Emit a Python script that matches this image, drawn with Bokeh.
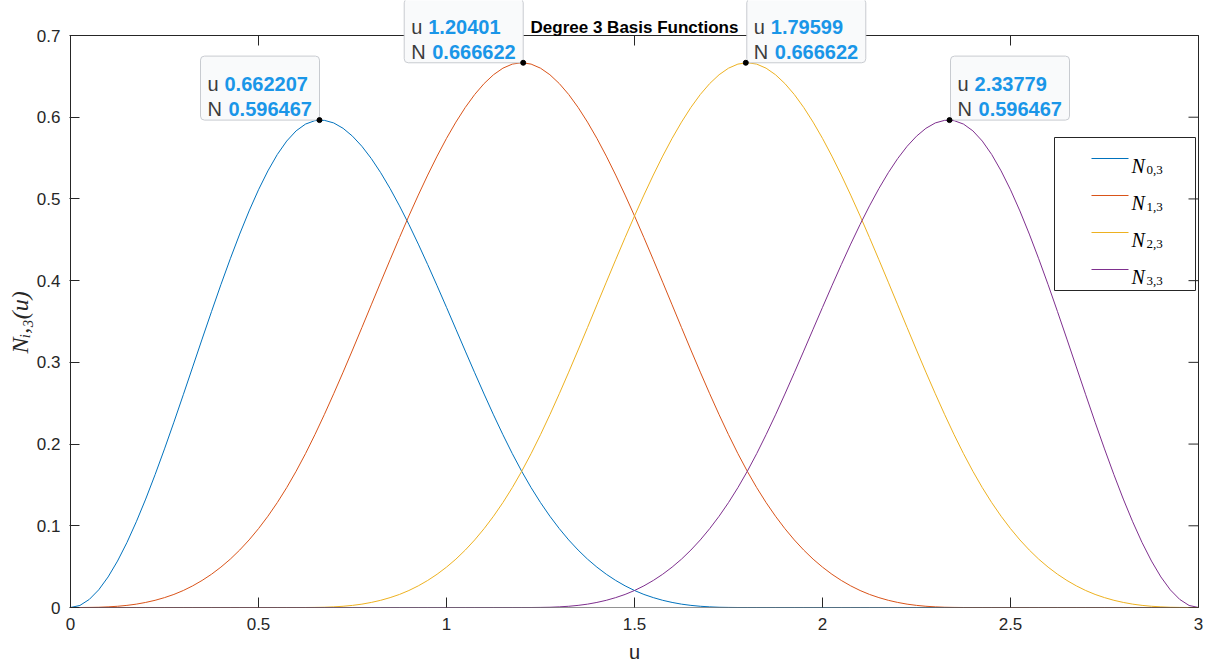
from math import pi
from bokeh.plotting import figure
from bokeh.models import Range1d, FixedTicker, Label, BoxAnnotation, Title
from bokeh.embed import file_html
from bokeh.resources import INLINE

# ---------------- data ----------------
u = [0.000, 0.025, 0.050, 0.075, 0.100, 0.125, 0.150, 0.175, 0.200, 0.225,
     0.250, 0.275, 0.300, 0.325, 0.350, 0.375, 0.400, 0.425, 0.450, 0.475,
     0.500, 0.525, 0.550, 0.575, 0.600, 0.625, 0.650, 0.675, 0.700, 0.725,
     0.750, 0.775, 0.800, 0.825, 0.850, 0.875, 0.900, 0.925, 0.950, 0.975,
     1.000, 1.025, 1.050, 1.075, 1.100, 1.125, 1.150, 1.175, 1.200, 1.225,
     1.250, 1.275, 1.300, 1.325, 1.350, 1.375, 1.400, 1.425, 1.450, 1.475,
     1.500, 1.525, 1.550, 1.575, 1.600, 1.625, 1.650, 1.675, 1.700, 1.725,
     1.750, 1.775, 1.800, 1.825, 1.850, 1.875, 1.900, 1.925, 1.950, 1.975,
     2.000, 2.025, 2.050, 2.075, 2.100, 2.125, 2.150, 2.175, 2.200, 2.225,
     2.250, 2.275, 2.300, 2.325, 2.350, 2.375, 2.400, 2.425, 2.450, 2.475,
     2.500, 2.525, 2.550, 2.575, 2.600, 2.625, 2.650, 2.675, 2.700, 2.725,
     2.750, 2.775, 2.800, 2.825, 2.850, 2.875, 2.900, 2.925, 2.950, 2.975,
     3.000]

N0 = [0, 0.0025, 0.0099, 0.0216, 0.0374, 0.0568, 0.0794, 0.1049, 0.1327, 0.1626,
      0.1941, 0.2268, 0.2604, 0.2944, 0.3285, 0.3621, 0.3951, 0.4268, 0.4570, 0.4853,
      0.5112, 0.5343, 0.5544, 0.5708, 0.5833, 0.5916, 0.5958, 0.5962, 0.5930, 0.5864,
      0.5768, 0.5644, 0.5494, 0.5321, 0.5127, 0.4915, 0.4688, 0.4447, 0.4196, 0.3937,
      0.3673, 0.3406, 0.3138, 0.2873, 0.2612, 0.2358, 0.2115, 0.1883, 0.1667, 0.1467,
      0.1284, 0.1117, 0.0965, 0.0827, 0.0703, 0.0592, 0.0494, 0.0407, 0.0331, 0.0265,
      0.0208, 0.0160, 0.0121, 0.0088, 0.0062, 0.0041, 0.0026, 0.0015, 0.0008, 0.0003,
      0.0001, 0, 0, 0, 0, 0, 0, 0, 0, 0,
      0, 0, 0, 0, 0, 0, 0, 0, 0, 0,
      0, 0, 0, 0, 0, 0, 0, 0, 0, 0,
      0, 0, 0, 0, 0, 0, 0, 0, 0, 0,
      0, 0, 0, 0, 0, 0, 0, 0, 0, 0,
      0]

N1 = [0, 0, 0.0001, 0.0003, 0.0008, 0.0015, 0.0026, 0.0041, 0.0062, 0.0088,
      0.0121, 0.0160, 0.0208, 0.0265, 0.0331, 0.0407, 0.0494, 0.0592, 0.0703, 0.0827,
      0.0965, 0.1117, 0.1284, 0.1467, 0.1667, 0.1883, 0.2115, 0.2360, 0.2616, 0.2880,
      0.3151, 0.3426, 0.3704, 0.3981, 0.4256, 0.4527, 0.4792, 0.5047, 0.5292, 0.5524,
      0.5741, 0.5940, 0.6120, 0.6278, 0.6412, 0.6520, 0.6600, 0.6650, 0.6667, 0.6650,
      0.6600, 0.6520, 0.6412, 0.6278, 0.6120, 0.5940, 0.5741, 0.5524, 0.5292, 0.5047,
      0.4792, 0.4527, 0.4256, 0.3981, 0.3704, 0.3426, 0.3151, 0.2880, 0.2616, 0.2360,
      0.2115, 0.1883, 0.1667, 0.1467, 0.1284, 0.1117, 0.0965, 0.0827, 0.0703, 0.0592,
      0.0494, 0.0407, 0.0331, 0.0265, 0.0208, 0.0160, 0.0121, 0.0088, 0.0062, 0.0041,
      0.0026, 0.0015, 0.0008, 0.0003, 0.0001, 0, 0, 0, 0, 0,
      0, 0, 0, 0, 0, 0, 0, 0, 0, 0,
      0, 0, 0, 0, 0, 0, 0, 0, 0, 0,
      0]

N2 = [0, 0, 0, 0, 0, 0, 0, 0, 0, 0,
      0, 0, 0, 0, 0, 0, 0, 0, 0, 0,
      0, 0, 0, 0, 0, 0, 0.0001, 0.0003, 0.0008, 0.0015,
      0.0026, 0.0041, 0.0062, 0.0088, 0.0121, 0.0160, 0.0208, 0.0265, 0.0331, 0.0407,
      0.0494, 0.0592, 0.0703, 0.0827, 0.0965, 0.1117, 0.1284, 0.1467, 0.1667, 0.1883,
      0.2115, 0.2360, 0.2616, 0.2880, 0.3151, 0.3426, 0.3704, 0.3981, 0.4256, 0.4527,
      0.4792, 0.5047, 0.5292, 0.5524, 0.5741, 0.5940, 0.6120, 0.6278, 0.6412, 0.6520,
      0.6600, 0.6650, 0.6667, 0.6650, 0.6600, 0.6520, 0.6412, 0.6278, 0.6120, 0.5940,
      0.5741, 0.5524, 0.5292, 0.5047, 0.4792, 0.4527, 0.4256, 0.3981, 0.3704, 0.3426,
      0.3151, 0.2880, 0.2616, 0.2360, 0.2115, 0.1883, 0.1667, 0.1467, 0.1284, 0.1117,
      0.0965, 0.0827, 0.0703, 0.0592, 0.0494, 0.0407, 0.0331, 0.0265, 0.0208, 0.0160,
      0.0121, 0.0088, 0.0062, 0.0041, 0.0026, 0.0015, 0.0008, 0.0003, 0.0001, 0,
      0]

N3 = [0, 0, 0, 0, 0, 0, 0, 0, 0, 0,
      0, 0, 0, 0, 0, 0, 0, 0, 0, 0,
      0, 0, 0, 0, 0, 0, 0, 0, 0, 0,
      0, 0, 0, 0, 0, 0, 0, 0, 0, 0,
      0, 0, 0, 0, 0, 0, 0, 0, 0, 0,
      0.0001, 0.0003, 0.0008, 0.0015, 0.0026, 0.0041, 0.0062, 0.0088, 0.0121, 0.0160,
      0.0208, 0.0265, 0.0331, 0.0407, 0.0494, 0.0592, 0.0703, 0.0827, 0.0965, 0.1117,
      0.1284, 0.1467, 0.1667, 0.1883, 0.2115, 0.2358, 0.2612, 0.2873, 0.3138, 0.3406,
      0.3673, 0.3937, 0.4196, 0.4447, 0.4688, 0.4915, 0.5127, 0.5321, 0.5494, 0.5644,
      0.5768, 0.5864, 0.5930, 0.5962, 0.5958, 0.5916, 0.5833, 0.5708, 0.5544, 0.5343,
      0.5112, 0.4853, 0.4570, 0.4268, 0.3951, 0.3621, 0.3285, 0.2944, 0.2604, 0.2268,
      0.1941, 0.1626, 0.1327, 0.1049, 0.0794, 0.0568, 0.0374, 0.0216, 0.0099, 0.0025,
      0]

series = [N0, N1, N2, N3]
for s in series:
    assert len(s) == len(u)

legend_main = ["N", "N", "N", "N"]
legend_subs = ["0,3", "1,3", "2,3", "3,3"]
colors = ["#0072BD", "#D95319", "#EDB120", "#7E2F8E"]

tip_u = [0.662207, 1.20401, 1.79599, 2.33779]
tip_N = [0.596467, 0.666622, 0.666622, 0.596467]
tip_side = ["left", "left", "right", "right"]

x_ticks = [0, 0.5, 1, 1.5, 2, 2.5, 3]
x_tick_labels = ["0", "0.5", "1", "1.5", "2", "2.5", "3"]
y_ticks = [0, 0.1, 0.2, 0.3, 0.4, 0.5, 0.6, 0.7]
y_tick_labels = ["0", "0.1", "0.2", "0.3", "0.4", "0.5", "0.6", "0.7"]

title_text = "Degree 3 Basis Functions"
x_label = "u"
y_label = "N\u1d62,\u2083(u)"

# ---------------- geometry ----------------
AXL, AXR = x_ticks[0], x_ticks[-1]      # axes box in data units
AXB, AXT = y_ticks[0], y_ticks[-1]
PX_X = (AXR - AXL) / 1128.0             # data units per pixel
PX_Y = (AXT - AXB) / 572.0
FW, FH = 1130, 607                      # frame reaches the top of the canvas
AX = "#262626"
SANS = "Liberation Sans"
SERIF = "Liberation Serif"

p = figure(frame_width=FW, frame_height=FH,
           x_range=Range1d(AXL - PX_X, AXR + PX_X),
           y_range=Range1d(AXB, AXT + 35 * PX_Y),
           output_backend="svg", toolbar_location=None,
           min_border_left=69, min_border_right=21,
           min_border_top=0, min_border_bottom=60,
           background_fill_color="white", border_fill_color="white")
p.title.visible = False
p.xgrid.visible = False
p.ygrid.visible = False
p.outline_line_color = None


def style_axis(ax):
    ax.major_tick_line_color = AX
    ax.major_tick_in = 10
    ax.major_tick_out = 0
    ax.minor_tick_in = 0
    ax.minor_tick_out = 0
    ax.minor_tick_line_color = None
    ax.major_label_text_font = SANS
    ax.major_label_text_color = AX
    ax.major_label_text_font_size = "17px"


xax = p.xaxis[0]
xax.ticker = FixedTicker(ticks=x_ticks)
xax.major_label_overrides = dict(zip(x_ticks, x_tick_labels))
style_axis(xax)
xax.axis_line_color = None
xax.major_label_standoff = 10
xax.axis_label = x_label
xax.axis_label_text_font = SANS
xax.axis_label_text_font_size = "20px"
xax.axis_label_text_font_style = "normal"
xax.axis_label_text_color = AX
xax.axis_label_standoff = 8

yax = p.yaxis[0]
yax.ticker = FixedTicker(ticks=y_ticks)
yax.major_label_overrides = dict(zip(y_ticks, y_tick_labels))
style_axis(yax)
yax.axis_line_color = None
yax.major_label_standoff = 9

p.add_layout(Title(text=y_label, align="left", offset=254, standoff=2,
                   text_font=SERIF, text_font_style="italic",
                   text_font_size="24px", text_color=AX), "left")

# ---------------- curves ----------------
for ys, c in zip(series, colors):
    p.line(u, ys, line_color=c, line_width=1)

# ---------------- MATLAB axes box + top / right ticks ----------------
p.add_layout(BoxAnnotation(left=AXL, right=AXR, bottom=AXB, top=AXT,
                           fill_color=None, fill_alpha=0,
                           line_color=AX, line_width=1, line_alpha=1))
p.segment(x0=x_ticks, x1=x_ticks, y0=[AXT] * len(x_ticks),
          y1=[AXT - 10 * PX_Y] * len(x_ticks), line_color=AX, line_width=1)
p.segment(x0=[AXR] * len(y_ticks), x1=[AXR - 10 * PX_X] * len(y_ticks),
          y0=y_ticks, y1=y_ticks, line_color=AX, line_width=1)

# ---------------- legend (custom, MATLAB look) ----------------
p.add_layout(BoxAnnotation(left=AXR - 144 * PX_X, right=AXR - 3 * PX_X,
                           top=AXT - 102 * PX_Y, bottom=AXT - 255 * PX_Y,
                           fill_color="white", fill_alpha=1,
                           line_color=AX, line_width=1, line_alpha=1,
                           level="underlay"))
rows = [123 + 37 * i for i in range(len(colors))]
p.segment(x0=[AXR - 107 * PX_X] * 4, x1=[AXR - 70 * PX_X] * 4,
          y0=[AXT - r * PX_Y for r in rows], y1=[AXT - r * PX_Y for r in rows],
          line_color=colors, line_width=1)
for r, m, s in zip(rows, legend_main, legend_subs):
    p.add_layout(Label(x=AXR, y=AXT, x_offset=-67, y_offset=-(r + 7), text=m,
                       text_font=SERIF, text_font_style="italic",
                       text_font_size="20px", text_color="#000000",
                       text_align="left", text_baseline="alphabetic"))
    p.add_layout(Label(x=AXR, y=AXT, x_offset=-52, y_offset=-(r + 11), text=s,
                       text_font=SERIF, text_font_size="13px",
                       text_color="#000000",
                       text_align="left", text_baseline="alphabetic"))

# ---------------- data tips ----------------
p.scatter(tip_u, tip_N, size=5, fill_color="black", line_color="black",
          level="overlay")
BW, BH = 119, 64
for tu, tn, side in zip(tip_u, tip_N, tip_side):
    bl = -BW if side == "left" else 1
    p.add_layout(BoxAnnotation(left=tu + bl * PX_X, right=tu + (bl + BW) * PX_X,
                               bottom=tn, top=tn + BH * PX_Y,
                               fill_color="#F9FAFB", fill_alpha=1,
                               line_color="#C8CBD0", line_width=1, line_alpha=1,
                               border_radius=4))
    for lab, val, dy, dx in (("u", "{:g}".format(tu), 36, 17),
                             ("N", "{:g}".format(tn), 11, 21)):
        p.add_layout(Label(x=tu, y=tn, x_offset=bl + 7, y_offset=dy, text=lab,
                           text_font=SANS, text_font_size="20px",
                           text_color="#3C3C3C", text_align="left",
                           text_baseline="alphabetic"))
        p.add_layout(Label(x=tu, y=tn, x_offset=bl + 7 + dx, y_offset=dy, text=val,
                           text_font=SANS, text_font_size="20px",
                           text_font_style="bold",
                           text_color="#1A96E8", text_align="left",
                           text_baseline="alphabetic"))

# ---------------- title ----------------
p.add_layout(Label(x=(AXL + AXR) / 2, y=AXT, y_offset=8, text=title_text,
                   text_font=SANS, text_font_size="17px", text_font_style="bold",
                   text_color="#000000", text_align="center",
                   text_baseline="alphabetic"))

open("out.html", "w").write(file_html(p, INLINE))
